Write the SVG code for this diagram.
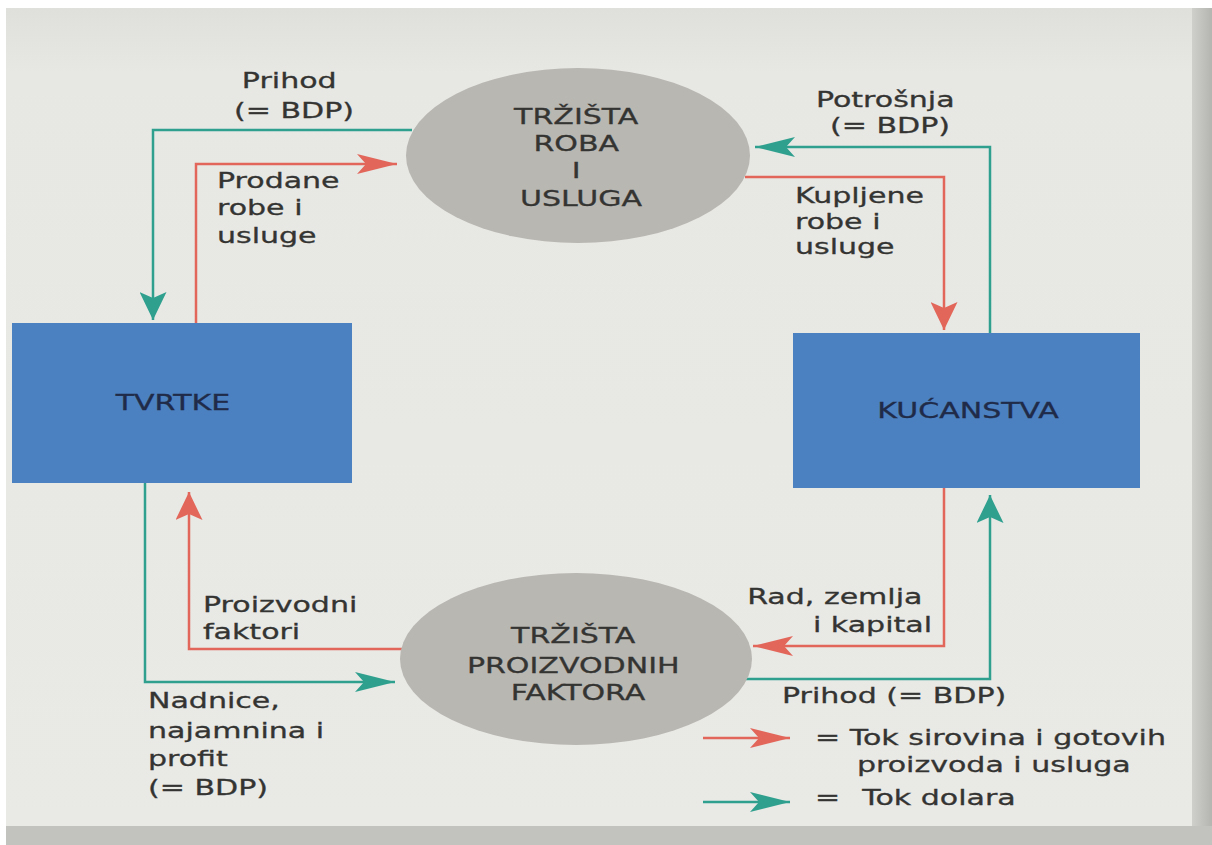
<svg xmlns="http://www.w3.org/2000/svg" width="1212" height="845" viewBox="0 0 1212 845">
  <style>
    .t { font-family: "DejaVu Sans", Verdana, sans-serif; font-size: 21px; fill: #343432; stroke: #343432; stroke-width: 0.3; }
    .mid { text-anchor: middle; }
    .end { text-anchor: end; }
    .box { fill: #4b80c1; }
    .boxt { font-family: "DejaVu Sans", Verdana, sans-serif; font-size: 21px; fill: #1f2b48; stroke: #1f2b48; stroke-width: 0.3; text-anchor: middle; }
    .ell { fill: #b9b7b1; }
    .teal { fill: none; stroke: #2fa08e; stroke-width: 2.5; }
    .red { fill: none; stroke: #e2675a; stroke-width: 2.5; }
    .tealH { marker-end: url(#ahTealH); }
    .tealV { marker-end: url(#ahTealV); }
    .redH { marker-end: url(#ahRedH); }
    .redV { marker-end: url(#ahRedV); }
  </style>
  <defs>
    <linearGradient id="page" x1="0" y1="0" x2="0" y2="1">
      <stop offset="0" stop-color="#dfdfdb"/>
      <stop offset="0.08" stop-color="#e7e7e4"/>
      <stop offset="1" stop-color="#e9e9e6"/>
    </linearGradient>
    <linearGradient id="rband" x1="0" y1="0" x2="1" y2="0">
      <stop offset="0" stop-color="#cfcfcb"/>
      <stop offset="1" stop-color="#b4b4b0"/>
    </linearGradient>
    <marker id="ahTealH" markerUnits="userSpaceOnUse" markerWidth="40" markerHeight="20" refX="40" refY="10" orient="auto">
      <path d="M0,0 L40,10 L0,20 L9,10 Z" fill="#2fa08e"/>
    </marker>
    <marker id="ahRedH" markerUnits="userSpaceOnUse" markerWidth="40" markerHeight="20" refX="40" refY="10" orient="auto">
      <path d="M0,0 L40,10 L0,20 L9,10 Z" fill="#e2675a"/>
    </marker>
    <marker id="ahTealV" markerUnits="userSpaceOnUse" markerWidth="28" markerHeight="27" refX="28" refY="13.5" orient="auto">
      <path d="M0,0 L28,13.5 L0,27 L6,13.5 Z" fill="#2fa08e"/>
    </marker>
    <marker id="ahRedV" markerUnits="userSpaceOnUse" markerWidth="28" markerHeight="27" refX="28" refY="13.5" orient="auto">
      <path d="M0,0 L28,13.5 L0,27 L6,13.5 Z" fill="#e2675a"/>
    </marker>
  </defs>

  <!-- page background -->
  <rect x="0" y="0" width="1212" height="845" fill="#ffffff"/>
  <rect x="6" y="8" width="1186" height="818" fill="url(#page)"/>
  <rect x="1192" y="8" width="20" height="837" fill="url(#rband)"/>
  <rect x="6" y="826" width="1206" height="19" fill="#c2c2be"/>

  <!-- connectors -->
  <g id="connectors">
    <path class="teal tealV" d="M412,130 H153 V320"/>
    <path class="red redH" d="M196,323 V164 H397"/>
    <path class="teal tealH" d="M990,333 V147 H755"/>
    <path class="red redV" d="M745,177 H944 V330"/>
    <path class="red redH" d="M944,488 V646 H753"/>
    <path class="teal tealV" d="M745,679 H990 V495"/>
    <path class="red redV" d="M405,649 H189 V492"/>
    <path class="teal tealH" d="M145,483 V682 H395"/>
  </g>

  <!-- nodes -->
  <g id="node-trzista-roba">
    <ellipse class="ell" cx="578" cy="155.5" rx="172" ry="87.5"/>
    <text class="t mid" transform="translate(581,124) scale(1.43,1)">
      <tspan x="0" y="0">TRŽIŠTA</tspan>
      <tspan x="0" y="27">ROBA</tspan>
      <tspan x="0" y="54">I</tspan>
      <tspan x="0" y="82">USLUGA</tspan>
    </text>
  </g>
  <g id="node-trzista-faktora">
    <ellipse class="ell" cx="576" cy="659" rx="176" ry="86"/>
    <text class="t mid" transform="translate(578,643) scale(1.43,1)">
      <tspan x="0" y="0">TRŽIŠTA</tspan>
      <tspan x="0" y="30">PROIZVODNIH</tspan>
      <tspan x="0" y="57">FAKTORA</tspan>
    </text>
  </g>
  <g id="node-tvrtke">
    <rect class="box" x="12" y="323" width="340" height="160"/>
    <text class="boxt" transform="translate(173,410) scale(1.43,1)">TVRTKE</text>
  </g>
  <g id="node-kucanstva">
    <rect class="box" x="793" y="333" width="347" height="155"/>
    <text class="boxt" transform="translate(968,418) scale(1.43,1)">KUĆANSTVA</text>
  </g>

  <!-- connector labels -->
  <g id="connector-labels">
    <text class="t mid" transform="translate(294,88) scale(1.43,1)">
      <tspan x="0" y="0">Prihod</tspan>
      <tspan x="0" y="30">(= BDP)</tspan>
    </text>
    <text class="t" transform="translate(217,188) scale(1.43,1)">
      <tspan x="0" y="0">Prodane</tspan>
      <tspan x="0" y="27">robe i</tspan>
      <tspan x="0" y="55">usluge</tspan>
    </text>
    <text class="t mid" transform="translate(890,107) scale(1.43,1)">
      <tspan x="0" y="0">Potrošnja</tspan>
      <tspan x="0" y="26">(= BDP)</tspan>
    </text>
    <text class="t" transform="translate(795,203) scale(1.43,1)">
      <tspan x="0" y="0">Kupljene</tspan>
      <tspan x="0" y="26">robe i</tspan>
      <tspan x="0" y="51">usluge</tspan>
    </text>
    <text class="t" transform="translate(203,612) scale(1.43,1)">
      <tspan x="0" y="0">Proizvodni</tspan>
      <tspan x="0" y="27">faktori</tspan>
    </text>
    <text class="t" transform="translate(148,708) scale(1.43,1)">
      <tspan x="0" y="0">Nadnice,</tspan>
      <tspan x="0" y="30">najamnina i</tspan>
      <tspan x="0" y="58">profit</tspan>
      <tspan x="0" y="87">(= BDP)</tspan>
    </text>
    <text class="t end" transform="translate(932,604) scale(1.43,1)">
      <tspan x="0" y="0">Rad, zemlja</tspan>
      <tspan x="0" y="28">i kapital</tspan>
    </text>
    <text class="t" transform="translate(782,703) scale(1.43,1)">Prihod (= BDP)</text>
  </g>

  <!-- legend -->
  <g id="legend">
    <path class="red redH" d="M703,738 H790"/>
    <path class="teal tealH" d="M703,802 H790"/>
    <text class="t" transform="translate(815,745) scale(1.43,1)">= Tok sirovina i gotovih</text>
    <text class="t" transform="translate(857,772) scale(1.43,1)">proizvoda i usluga</text>
    <text class="t" transform="translate(815,805) scale(1.43,1)"><tspan x="0" y="0">=</tspan><tspan x="33" y="0">Tok dolara</tspan></text>
  </g>
</svg>
